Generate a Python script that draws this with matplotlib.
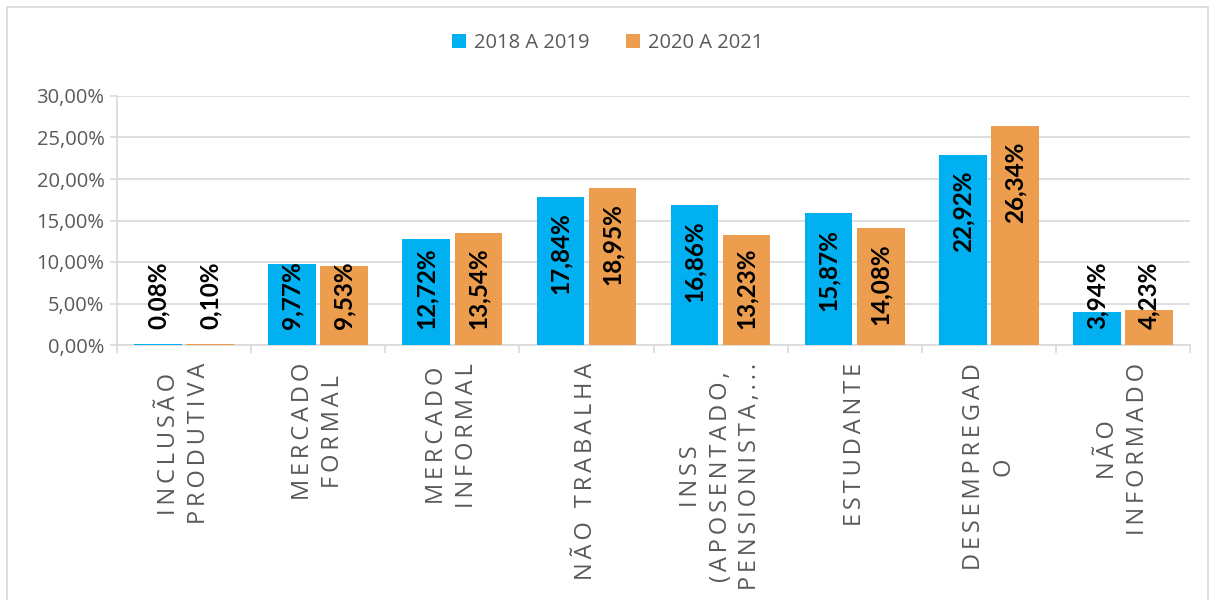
import matplotlib
matplotlib.use("Agg")
import matplotlib.pyplot as plt
import numpy as np
from matplotlib.patches import Rectangle
from matplotlib.ticker import FuncFormatter, MultipleLocator

plt.rcParams['font.family'] = ['Open Sans', 'DejaVu Sans']

categories = ["INCLUSÃO\nPRODUTIVA", "MERCADO\nFORMAL", "MERCADO\nINFORMAL", "NÃO TRABALHA",
              "INSS\n(APOSENTADO,\nPENSIONISTA,...", "ESTUDANTE", "DESEMPREGAD\nO", "NÃO\nINFORMADO"]
series_names = ["2018 A 2019", "2020 A 2021"]
s2018 = [0.08, 9.77, 12.72, 17.84, 16.86, 15.87, 22.92, 3.94]
s2020 = [0.10, 9.53, 13.54, 18.95, 13.23, 14.08, 26.34, 4.23]
colors = ["#00B0F0", "#EC9D4E"]

def spaced(s):
    return "\n".join("\u2009".join(line) for line in s.split("\n"))

fig = plt.figure(figsize=(12.15, 6.0), dpi=100)
ax = fig.add_axes([117/1215, 1-345/600, (1190-117)/1215, (345-96)/600])

x = np.arange(len(categories))
w = 0.355
off = 0.194
b1 = ax.bar(x - off, s2018, w, color=colors[0], label=series_names[0], zorder=3)
b2 = ax.bar(x + off, s2020, w, color=colors[1], label=series_names[1], zorder=3)

ax.set_xlim(-0.5, len(categories) - 0.5)
ax.set_ylim(0, 30)
ax.yaxis.set_major_locator(MultipleLocator(5))
ax.yaxis.set_major_formatter(FuncFormatter(lambda v, p: f"{v:.2f}".replace(".", ",") + "%"))
ax.grid(axis='y', color='#d9d9d9', linewidth=1.2, zorder=0)

for side in ['top', 'right']:
    ax.spines[side].set_visible(False)
for side in ['left', 'bottom']:
    ax.spines[side].set_color('#d9d9d9')
    ax.spines[side].set_linewidth(1.2)

ax.tick_params(axis='y', colors='#d9d9d9', labelcolor='#595959', labelsize=14.5, length=5, width=1.2, pad=4)
ax.set_xticks(np.arange(-0.5, len(categories)), minor=False)
ax.set_xticklabels([])
ax.tick_params(axis='x', which='major', colors='#d9d9d9', length=6, width=1.2)
ax.set_xticks(x, minor=True)
ax.set_xticklabels([spaced(c) for c in categories], minor=True, rotation=90,
                   ha='center', va='top', multialignment='center', linespacing=1.32)
ax.tick_params(axis='x', which='minor', length=0, pad=13, labelsize=17, labelcolor='#595959')

fig.canvas.draw()
renderer = fig.canvas.get_renderer()
inv = ax.transData.inverted()
for bars, vals in ((b1, s2018), (b2, s2020)):
    for rect, v in zip(bars, vals):
        cx = rect.get_x() + rect.get_width() / 2
        lab = f"{v:.2f}".replace(".", ",") + "%"
        t = ax.text(cx, 0, lab, rotation=90, ha='center', va='bottom',
                    fontsize=17.5, fontweight='bold', color='black', zorder=4,
                    family=['Lato', 'DejaVu Sans'])
        bb = t.get_window_extent(renderer)
        h = inv.transform((0, bb.height))[1] - inv.transform((0, 0))[1]
        y0 = max(1.9, v - 1.85 - h)
        t.set_y(y0)

leg = fig.legend(handles=[b1, b2], labels=series_names, loc='center', bbox_to_anchor=(0.5, 1-43/600),
                 ncol=2, frameon=False, fontsize=14.5, handlelength=0.7, handleheight=0.7,
                 columnspacing=1.8, handletextpad=0.4)
for t in leg.get_texts():
    t.set_color('#595959')

fig.patches.append(Rectangle((7/1215, -0.05), (1208-7)/1215, 1.05 - 7/600, transform=fig.transFigure,
                             fill=False, edgecolor='#d9d9d9', linewidth=1.2))

fig.savefig("out.png", dpi=100)
